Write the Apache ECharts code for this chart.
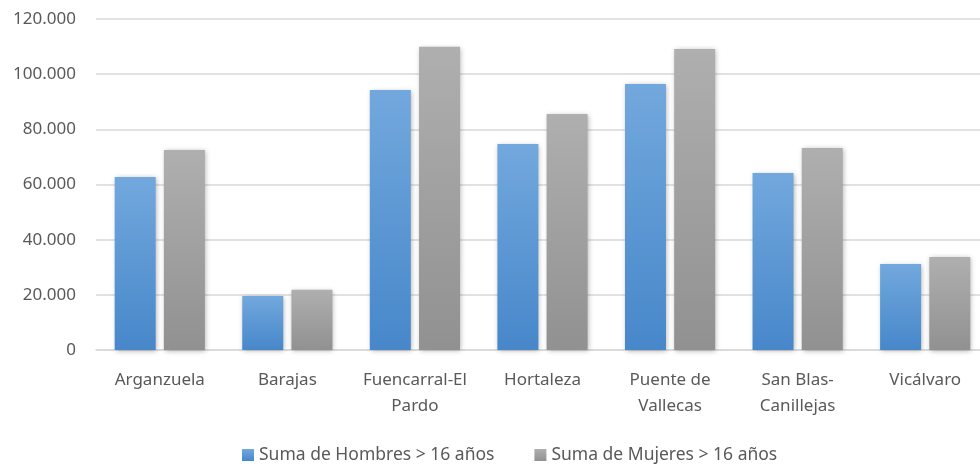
<!DOCTYPE html>
<html><head><meta charset="utf-8">
<script src="https://cdn.jsdelivr.net/npm/echarts@6/dist/echarts.min.js"></script>
<style>html,body{margin:0;padding:0;background:#fff}#c{width:980px;height:464px}</style>
</head><body><div id="c"></div>
<script>
var categories = ["Arganzuela", "Barajas", "Fuencarral-El\nPardo", "Hortaleza", "Puente de\nVallecas", "San Blas-\nCanillejas", "Vicálvaro"];
var seriesNames = ["Suma de Hombres > 16 años", "Suma de Mujeres > 16 años"];
var hombres = [62700, 19600, 94300, 74700, 96400, 64200, 31200];
var mujeres = [72500, 21800, 109900, 85600, 109100, 73200, 33700];

var font = "Noto Sans";
var chart = echarts.init(document.getElementById('c'), null, {renderer: 'canvas'});
function grad(top, bottom) {
  return new echarts.graphic.LinearGradient(0, 0, 0, 1, [{offset: 0, color: top}, {offset: 1, color: bottom}]);
}
chart.setOption({
  animation: false,
  backgroundColor: '#ffffff',
  grid: {left: 96, top: 19, width: 893, height: 331, outerBoundsMode: 'none', containLabel: false},
  legend: {
    top: 441, left: 237, itemWidth: 12, itemHeight: 12, itemGap: 40, icon: 'rect',
    textStyle: {fontFamily: font, fontSize: 17.5, color: '#595959'},
    data: seriesNames
  },
  xAxis: {
    type: 'category', data: categories,
    axisLine: {lineStyle: {color: '#D9D9D9', width: 1.5}},
    axisTick: {show: false},
    axisLabel: {fontFamily: font, fontSize: 17, color: '#595959', margin: 17, lineHeight: 26, interval: 0}
  },
  yAxis: {
    type: 'value', min: 0, max: 120000, interval: 20000,
    axisLine: {show: false}, axisTick: {show: false},
    splitLine: {lineStyle: {color: '#D9D9D9', width: 1.5}},
    axisLabel: {fontFamily: font, fontSize: 17, color: '#595959', margin: 20,
      formatter: function (v) { return v === 0 ? '0' : String(v).replace(/\B(?=(\d{3})+(?!\d))/g, '.'); }}
  },
  series: [
    {name: seriesNames[0], type: 'bar', data: hombres, barWidth: 41, barGap: '20%',
     itemStyle: {color: grad('#72A8DD', '#4787CA'), shadowBlur: 5, shadowColor: 'rgba(0,0,0,0.3)', shadowOffsetX: 1, shadowOffsetY: 1}},
    {name: seriesNames[1], type: 'bar', data: mujeres, barWidth: 41,
     itemStyle: {color: grad('#AFAFAF', '#919191'), shadowBlur: 5, shadowColor: 'rgba(0,0,0,0.3)', shadowOffsetX: 1, shadowOffsetY: 1}}
  ]
});
</script></body></html>
